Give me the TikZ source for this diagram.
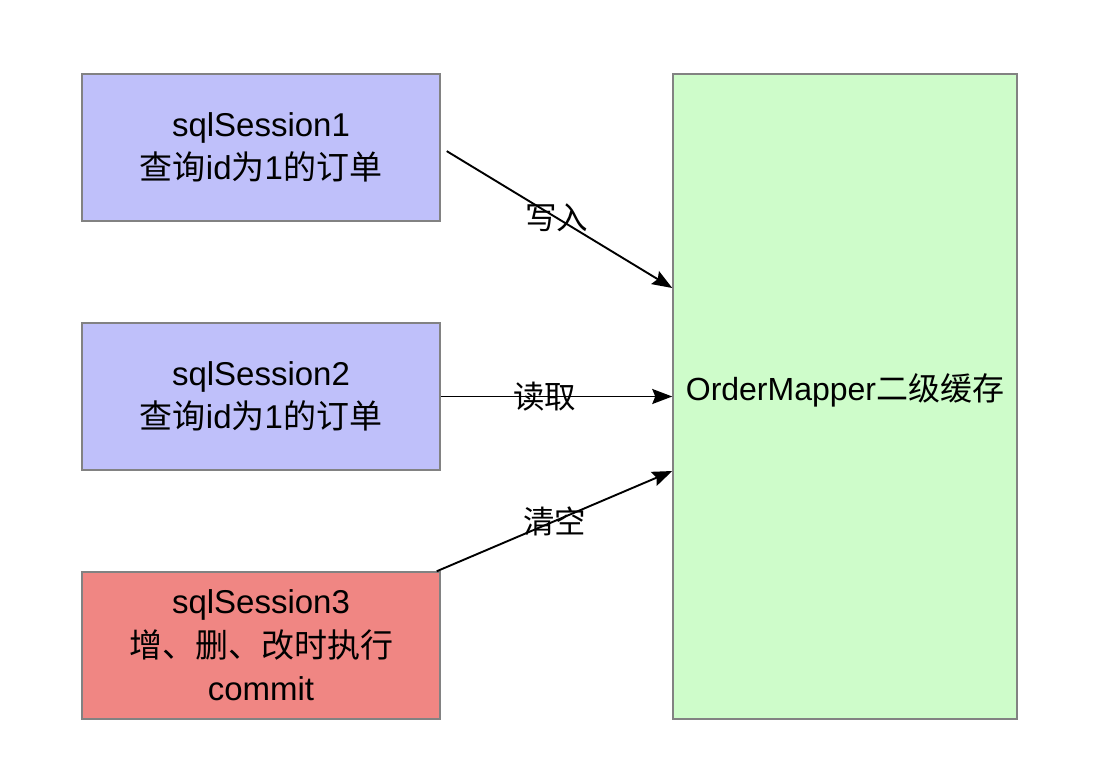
\documentclass[tikz,border=0pt]{standalone}
\usepackage{fontspec}
\setmainfont{Liberation Sans}
\newfontfamily\cjk{Noto Sans CJK SC}
\usetikzlibrary{arrows.meta}

\definecolor{sessblue}{RGB}{191,192,250}
\definecolor{sessred}{RGB}{240,134,131}
\definecolor{cachegreen}{RGB}{206,252,202}
\definecolor{boxline}{RGB}{130,130,130}

\begin{document}
\begin{tikzpicture}[
    x=1pt, y=-1pt,
    % cajas de las sesiones y de la cache
    session/.style={draw=boxline, line width=1.5pt, minimum width=358, minimum height=147, inner sep=0pt, align=center, font=\fontsize{33}{43.5}\selectfont},
    cache/.style={draw=boxline, line width=1.5pt, fill=cachegreen, minimum width=344, minimum height=645, inner sep=0pt, align=center, font=\fontsize{32}{43}\selectfont},
    % flechas hacia la cache
    flow/.style={line width=1.9pt, -{Stealth[length=20pt, width=15pt, inset=3pt]}},
    action/.style={font=\fontsize{31.5}{36}\cjk, inner sep=0pt}
]

\useasboundingbox (0,0) rectangle (1102,778);

% --- Sesiones ---
\node[session, fill=sessblue] (s1) at (261,147.5) {sqlSession1\\{\cjk 查询}id{\cjk 为}1{\cjk 的订单}};
\node[session, fill=sessblue] (s2) at (261,396.5) {sqlSession2\\{\cjk 查询}id{\cjk 为}1{\cjk 的订单}};
\node[session, fill=sessred] (s3) at (261,645.5) {sqlSession3\\{\cjk 增、删、改时执行}\\commit};

% --- Cache de segundo nivel ---
\node[cache] (cache) at (845,396.5) {\raisebox{18pt}{OrderMapper{\cjk 二级缓存}}};

% --- Flechas ---
\draw[flow, shorten <=7pt] (s1.east) -- node[action] {写入} ([yshift=108.5]cache.west);
\draw[flow] (s2.east) -- node[action, pos=0.45] {读取} (cache.west);
\draw[flow] ([xshift=-4]s3.north east) -- node[action] {清空} ([yshift=-74.5]cache.west);

\end{tikzpicture}
\end{document}
